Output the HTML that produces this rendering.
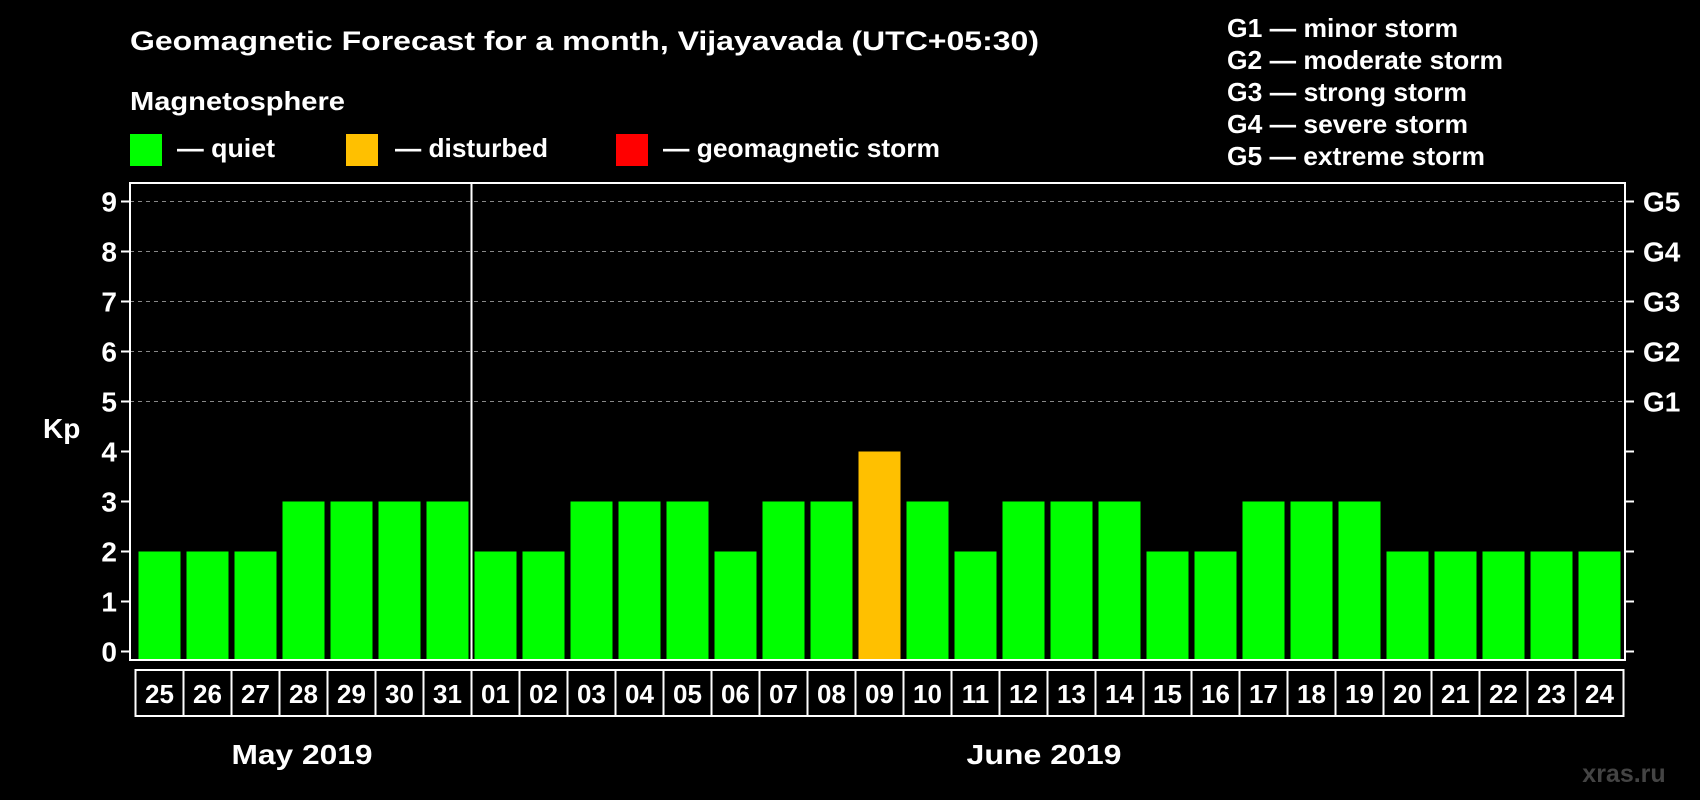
<!DOCTYPE html>
<html><head><meta charset="utf-8"><style>
html,body{margin:0;padding:0;background:#000;}
svg{display:block;font-family:"Liberation Sans",Arial,sans-serif;font-weight:bold;}
</style></head><body>
<svg id="c" width="1700" height="800" viewBox="0 0 1700 800" xmlns="http://www.w3.org/2000/svg">
<rect width="1700" height="800" fill="#000"/>
<text x="130" y="50" fill="#fff" font-size="27" textLength="909" lengthAdjust="spacingAndGlyphs">Geomagnetic Forecast for a month, Vijayavada (UTC+05:30)</text>
<text x="130" y="110" fill="#fff" font-size="26" textLength="215" lengthAdjust="spacingAndGlyphs">Magnetosphere</text>
<g><rect x="130" y="134" width="32" height="32" fill="#00ff00"/><text x="177" y="157" fill="#fff" font-size="26" textLength="98" lengthAdjust="spacingAndGlyphs">— quiet</text></g>
<g><rect x="346" y="134" width="32" height="32" fill="#ffc000"/><text x="395" y="157" fill="#fff" font-size="26" textLength="153" lengthAdjust="spacingAndGlyphs">— disturbed</text></g>
<g><rect x="616" y="134" width="32" height="32" fill="#ff0000"/><text x="663" y="157" fill="#fff" font-size="26" textLength="277" lengthAdjust="spacingAndGlyphs">— geomagnetic storm</text></g>
<g fill="#fff" font-size="26" lengthAdjust="spacingAndGlyphs">
<text x="1227" y="37" textLength="231" lengthAdjust="spacingAndGlyphs">G1 — minor storm</text>
<text x="1227" y="69" textLength="276" lengthAdjust="spacingAndGlyphs">G2 — moderate storm</text>
<text x="1227" y="101" textLength="240" lengthAdjust="spacingAndGlyphs">G3 — strong storm</text>
<text x="1227" y="133" textLength="241" lengthAdjust="spacingAndGlyphs">G4 — severe storm</text>
<text x="1227" y="165" textLength="258" lengthAdjust="spacingAndGlyphs">G5 — extreme storm</text>
</g>
<text x="43" y="438" fill="#fff" font-size="28">Kp</text>
<text x="302" y="764" fill="#fff" font-size="28" text-anchor="middle" textLength="141" lengthAdjust="spacingAndGlyphs">May 2019</text>
<text x="1044" y="764" fill="#fff" font-size="28" text-anchor="middle" textLength="155" lengthAdjust="spacingAndGlyphs">June 2019</text>
<text x="1624" y="782" fill="#444" font-size="25" text-anchor="middle">xras.ru</text>
<g id="plot"></g>
</svg>
<script>
const days=["25","26","27","28","29","30","31","01","02","03","04","05","06","07","08","09","10","11","12","13","14","15","16","17","18","19","20","21","22","23","24"];
const kp=[2,2,2,3,3,3,3,2,2,3,3,3,2,3,3,4,3,2,3,3,3,2,2,3,3,3,2,2,2,2,2];
const yTicks=[0,1,2,3,4,5,6,7,8,9];
const gLabels=["G1","G2","G3","G4","G5"];
const NS="http://www.w3.org/2000/svg";
const L=130,R=1625,T=183,B=660,X0=135.5,SW=48;
const y=v=>651.5-v*50;
const x=i=>X0+i*SW;
const g=document.getElementById('plot');
function mk(t,a){const e=document.createElementNS(NS,t);for(const k in a)e.setAttribute(k,a[k]);g.appendChild(e);return e;}
yTicks.forEach(v=>{
  if(v>=5){const l=mk('line',{x1:L,x2:R,y1:y(v),y2:y(v),stroke:'#888','stroke-dasharray':'4,4','stroke-width':1});
  
  }
  const t1=mk('line',{x1:L-9,x2:L,y1:y(v),y2:y(v),stroke:'#fff','stroke-width':2});
  
  
  const t2=mk('line',{x1:R,x2:R+9,y1:y(v),y2:y(v),stroke:'#fff','stroke-width':2});
  
  
  const tl=mk('text',{x:117,y:y(v)+10,fill:'#fff','font-size':28,'text-anchor':'end'});
  tl.textContent=v;
  
  
});
gLabels.forEach((s,i)=>{
  const t=mk('text',{x:1643,y:y(5+i)+10,fill:'#fff','font-size':28});
  t.textContent=s;
  
  
});
kp.forEach((v,i)=>{
  const b=mk('rect',{x:x(i)+3,y:y(v),width:SW-6,height:y(0)-y(v)+8,fill:v>=5?'#ff0000':(v>=4?'#ffc000':'#00ff00')});
  
  
  const c=mk('rect',{x:x(i),y:670,width:SW,height:46,fill:'none',stroke:'#fff','stroke-width':2});
  
  
  const t=mk('text',{x:x(i)+SW/2,y:703,fill:'#fff','font-size':26,'text-anchor':'middle'});
  t.textContent=days[i];
  
  
});
const f=mk('rect',{x:L,y:T,width:R-L,height:B-T,fill:'none',stroke:'#fff','stroke-width':2});


const d=mk('line',{x1:x(7),x2:x(7),y1:T,y2:B,stroke:'#fff','stroke-width':2});


</script>
</body></html>
